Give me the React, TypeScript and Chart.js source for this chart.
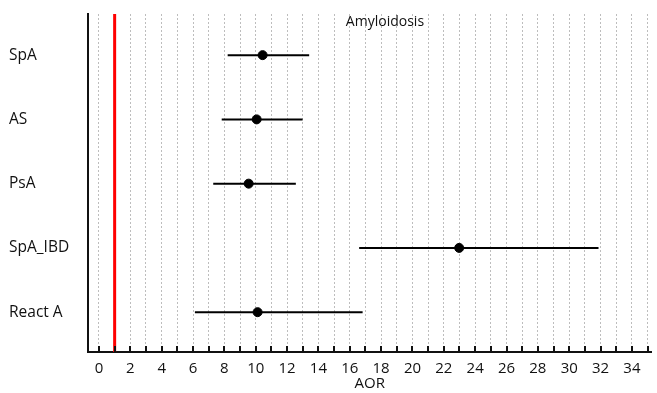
import React, { useEffect, useRef } from "react";
import { Chart, registerables } from "chart.js";

Chart.register(...registerables);

const categories = ["SpA", "AS", "PsA", "SpA_IBD", "React A"];
const estimates = [10.44, 10.06, 9.55, 22.98, 10.12];
const lowerCI = [8.21, 7.83, 7.29, 16.6, 6.12];
const upperCI = [13.41, 12.99, 12.56, 31.87, 16.82];
const referenceValue = 1;
const chartTitle = "Amyloidosis";
const xTitle = "AOR";

const FONT = "'Open Sans', sans-serif";

const overlayPlugin = {
  id: "overlay",
  afterDatasetsDraw(chart: any) {
    const { ctx, chartArea, scales } = chart;
    const xs = scales.x;
    ctx.save();
    // inner tick marks
    ctx.strokeStyle = "#111";
    ctx.lineWidth = 2;
    xs.ticks.forEach((t: any) => {
      const px = Math.round(xs.getPixelForValue(t.value));
      ctx.beginPath();
      ctx.moveTo(px, chartArea.bottom - 6);
      ctx.lineTo(px, chartArea.bottom);
      ctx.stroke();
    });
    // title inside plot
    ctx.fillStyle = "#111";
    ctx.font = `14px ${FONT}`;
    ctx.textAlign = "center";
    ctx.textBaseline = "middle";
    const cx = chartArea.left + (chartArea.right - chartArea.left) * 0.527;
    ctx.fillText(chartTitle, cx, chartArea.top + 8);
    ctx.restore();
  },
};

export default function App() {
  const ref = useRef<HTMLCanvasElement | null>(null);
  useEffect(() => {
    document.body.style.margin = "0";
    const yMin = 0.36;
    const yMax = 5.62;
    const ciSets = categories.map((c, i) => ({
      type: "line" as const,
      label: c,
      data: [
        { x: lowerCI[i], y: i + 1 },
        { x: upperCI[i], y: i + 1 },
      ],
      borderColor: "#000",
      borderWidth: 2,
      pointRadius: 0,
      showLine: true,
    }));
    const chart = new Chart(ref.current!, {
      type: "scatter",
      data: {
        datasets: [
          {
            type: "line" as const,
            label: "ref",
            data: [
              { x: referenceValue, y: yMin },
              { x: referenceValue, y: yMax },
            ],
            borderColor: "#ff0000",
            borderWidth: 3,
            pointRadius: 0,
            showLine: true,
            clip: false as any,
          },
          ...ciSets,
          {
            label: "AOR",
            data: categories.map((_, i) => ({ x: estimates[i], y: i + 1 })),
            backgroundColor: "#000",
            borderColor: "#000",
            pointRadius: 4.5,
            pointHoverRadius: 4.5,
          },
        ] as any,
      },
      options: {
        animation: false,
        responsive: false,
        layout: { padding: { left: 9, right: 4, top: 14, bottom: 0 } },
        plugins: { legend: { display: false }, tooltip: { enabled: false } },
        scales: {
          x: {
            type: "linear",
            min: -0.7,
            max: 35.25,
            grid: { color: "#bdbdbd", lineWidth: 1, drawTicks: false },
            border: { color: "#111", width: 2, dash: [2, 2] },
            ticks: {
              stepSize: 1,
              includeBounds: false,
              autoSkip: false,
              maxRotation: 0,
              padding: 8,
              color: "#111",
              font: { family: FONT, size: 15 },
              callback: (v: any) => {
                const n = Math.round(Number(v));
                return n % 2 === 0 ? String(n) : "";
              },
            },
            title: {
              display: true,
              text: xTitle,
              color: "#111",
              font: { family: FONT, size: 15 },
              padding: { top: 0, bottom: 0 },
            },
            afterFit: (s: any) => {
              s.height = 41;
            },
          },
          y: {
            type: "linear",
            reverse: true,
            min: yMin,
            max: yMax,
            grid: { display: false, drawTicks: false },
            border: { color: "#111", width: 2 },
            afterBuildTicks: (s: any) => {
              s.ticks = categories.map((_, i) => ({ value: i + 1 }));
            },
            ticks: {
              crossAlign: "far",
              color: "#111",
              font: { family: FONT, size: 15.5 },
              callback: (v: any) => categories[Number(v) - 1] ?? "",
            },
            afterFit: (s: any) => {
              s.width = 79;
            },
          },
        },
      },
      plugins: [overlayPlugin],
    });
    return () => chart.destroy();
  }, []);
  return <canvas ref={ref} width={657} height={393} style={{ display: "block" }} />;
}
